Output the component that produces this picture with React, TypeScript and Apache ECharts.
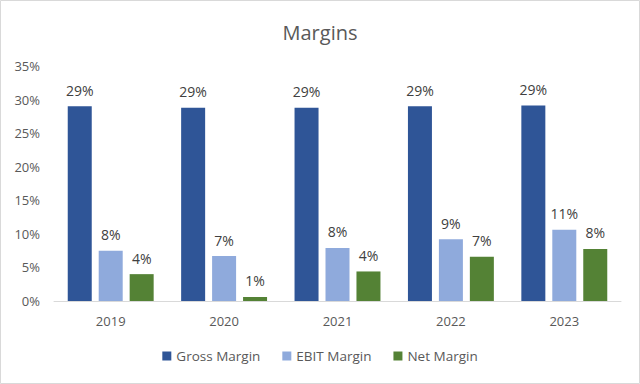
import React, { useEffect, useRef } from "react";
import * as echarts from "echarts";

const categories = ["2019", "2020", "2021", "2022", "2023"];
const grossMargin = [29.0, 28.8, 28.8, 29.0, 29.1];
const ebitMargin = [7.5, 6.7, 7.9, 9.2, 10.6];
const netMargin = [4.0, 0.6, 4.4, 6.6, 7.75];
const seriesNames = ["Gross Margin", "EBIT Margin", "Net Margin"];

const FONT = "'Open Sans', 'Liberation Sans', sans-serif";

export default function App() {
  const ref = useRef<HTMLDivElement>(null);
  useEffect(() => {
    if (!ref.current) return;
    const chart = echarts.init(ref.current, undefined, { renderer: "svg" });
    const label = {
      show: true,
      position: "top" as const,
      distance: 9,
      color: "#404040",
      fontSize: 14,
      fontFamily: FONT,
      formatter: (p: any) => `${Math.round(p.value)}%`,
    };
    const colors = ["#2F5597", "#8FAADC", "#548235"];
    const datas = [grossMargin, ebitMargin, netMargin];
    chart.setOption({
      animation: false,
      backgroundColor: "#ffffff",
      title: {
        text: "Margins",
        left: "center",
        top: 17,
        textStyle: { color: "#595959", fontSize: 20, fontWeight: "normal", fontFamily: FONT },
      },
      legend: {
        bottom: 16,
        left: "center",
        itemWidth: 9,
        itemHeight: 9,
        itemGap: 22,
        icon: "rect",
        textStyle: { color: "#595959", fontSize: 13.5, fontFamily: FONT },
        data: seriesNames,
      },
      grid: { left: 54, right: 19, top: 66, bottom: 83 },
      xAxis: {
        type: "category",
        data: categories,
        axisLine: { lineStyle: { color: "#d9d9d9" } },
        axisTick: { show: false },
        axisLabel: { color: "#595959", fontSize: 13, fontFamily: FONT, margin: 13 },
      },
      yAxis: {
        type: "value",
        min: 0,
        max: 35,
        interval: 5,
        axisLine: { show: false },
        axisTick: { show: false },
        splitLine: { show: false },
        axisLabel: { color: "#595959", fontSize: 13, fontFamily: FONT, formatter: "{value}%", margin: 14 },
      },
      series: seriesNames.map((name, i) => ({
        name,
        type: "bar",
        data: datas[i],
        barWidth: 24,
        barGap: "29%",
        barCategoryGap: "24%",
        itemStyle: { color: colors[i] },
        label,
      })),
      graphic: [
        {
          type: "rect",
          shape: { x: 0.5, y: 0.5, width: 639, height: 383 },
          style: { fill: "none", stroke: "#d9d9d9", lineWidth: 1 },
          silent: true,
        },
      ],
    });
    return () => chart.dispose();
  }, []);
  return (
    <div
      ref={ref}
      style={{ position: "fixed", left: 0, top: 0, width: 640, height: 384 }}
    />
  );
}
